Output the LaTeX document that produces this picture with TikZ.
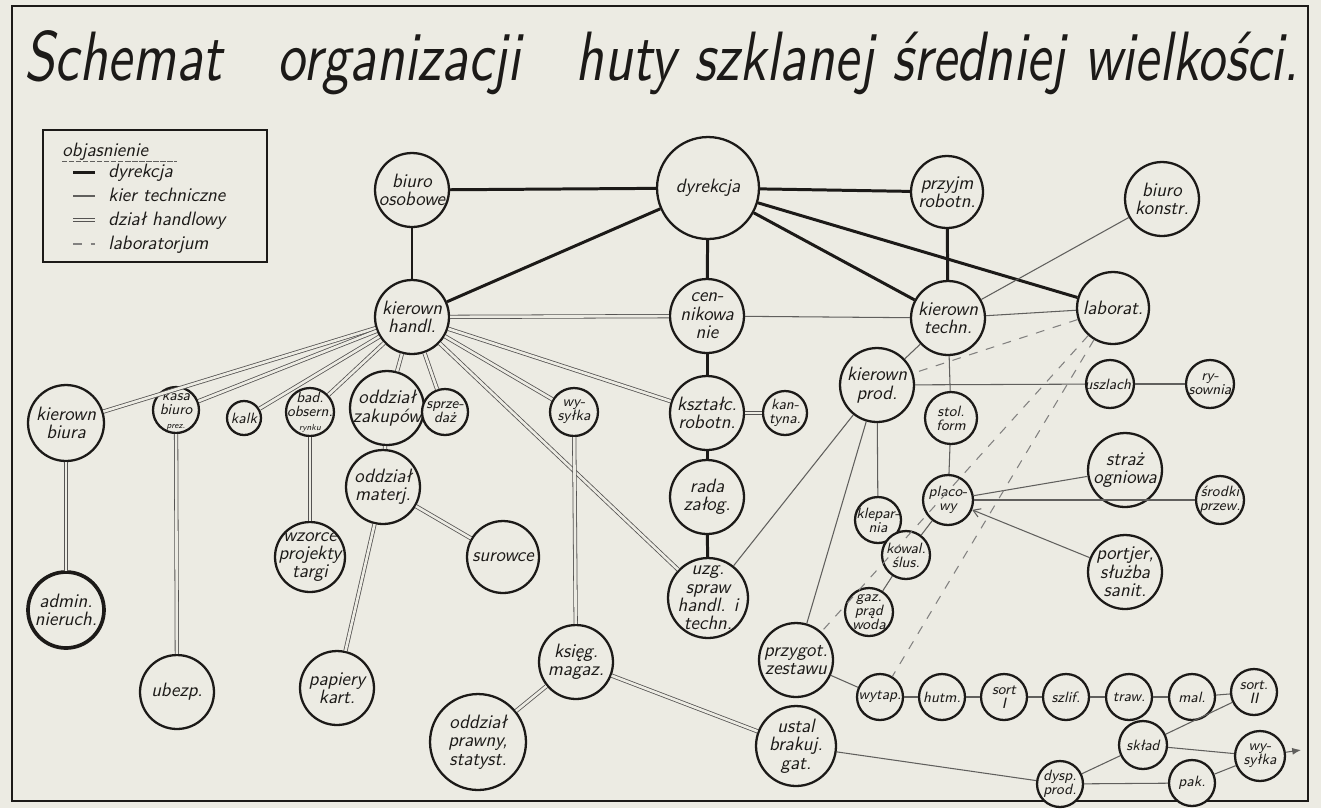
\documentclass[tikz,border=0pt]{standalone}
\usetikzlibrary{arrows.meta}
\definecolor{paper}{RGB}{236,235,227}
\definecolor{ink}{RGB}{28,26,24}

\begin{document}
\begin{tikzpicture}
[x=0.02cm,y=-0.02cm,
 unitDecorate/.style={shape=circle,draw=ink,fill=paper,line width=1.3pt,inner sep=0pt,minimum size=#1*0.04cm},
 bigText/.style={font=\sffamily\slshape\fontsize{11}{10.5}\selectfont,align=center,text=ink,inner sep=0pt},
 smallText/.style={font=\sffamily\slshape\fontsize{8.5}{8}\selectfont,align=center,text=ink,inner sep=0pt},
 legText/.style={font=\sffamily\slshape\fontsize{11}{11}\selectfont,text=ink,inner sep=0pt,anchor=base west},
 dirLine/.style={-,draw=ink,line width=1.7pt},
 techLine/.style={-,draw=ink!70,line width=0.6pt},
 tradeLine/.style={-,draw=ink!75,line width=0.45pt,double=paper,double distance=1.5pt},
 labLine/.style={-,draw=ink!55,line width=0.6pt,dash pattern=on 5pt off 5pt}]
%% paper and frame
\fill[paper] (0,0) rectangle (1321,808);
\draw[ink,line width=1.2pt] (12,6) rectangle (1308,801);
\node[anchor=base west,inner sep=0pt,text=ink] (title) at (24,80)
  {\resizebox{25.5cm}{1.0cm}{\sffamily\slshape Schemat\quad organizacji\quad huty szklanej średniej wielkości.}};
%% legend
\draw[ink,line width=1pt] (43,130) rectangle (267,262);
\node[legText] (legHead) at (62,156) {objasnienie};
\draw[ink!70,line width=0.5pt,dash pattern=on 3pt off 1pt] (62,161) -- (177,161);
\foreach \y/\lineStyle/\txt in {177/dirLine/dyrekcja, 201/techLine/kier techniczne,
  225/tradeLine/dział handlowy, 249/labLine/laboratorjum}
{
  \draw[\lineStyle] (73,\y-5) -- (95,\y-5);
  \node[legText] at (108,\y) {\txt};
}
%% nodes or vertices (big circles)
\foreach \nodename/\x/\y/\r/\txt in {
  biuroOs/412/190/37/{biuro\\osobowe}, dyr/708/188/51/{dyrekcja},
  przyjm/947/192/36/{przyjm\\robotn.}, bKonstr/1162/199/37/{biuro\\konstr.},
  kHandl/412/317/37/{kierown\\handl.}, cenn/707/316/37/{cen-\\nikowa\\nie},
  kTechn/948/318/37/{kierown\\techn.}, lab/1113/308/36/{laborat.},
  kBiura/66/423/38/{kierown\\biura}, zakup/387/408/37/{oddział\\zakupów},
  kszt/707/413/37/{kształc.\\robotn.}, kProd/877/385/37/{kierown\\prod.},
  mater/383/487/37/{oddział\\materj.}, admin/66/610/38/{admin.\\nieruch.},
  wzorce/310/557/35/{wzorce\\projekty\\targi}, surow/503/557/36/{surowce},
  straz/1125/470/37/{straż\\ogniowa}, portj/1125/572/37/{portjer,\\służba\\sanit.},
  rada/707/497/37/{rada\\załog.}, uzg/708/598/40/{uzg.\\spraw\\handl. i\\techn.},
  przyg/796/660/37/{przygot.\\zestawu}, papier/337/688/37/{papiery\\kart.},
  ubezp/177/692/37/{ubezp.}, ksieg/576/662/37/{księg.\\magaz.},
  prawny/478/742/48/{oddział\\prawny,\\statyst.}, ustal/796/746/40/{ustal\\brakuj.\\gat.}}
{
  \node (\nodename) at (\x,\y) [unitDecorate=\r] {};
  \node[bigText] at (\nodename) {\txt};
}
%% nodes or vertices (small circles)
\foreach \nodename/\x/\y/\r/\txt in {
  kasa/176/410/23/{kasa\\biuro\\{\tiny prez.}}, kalk/244/418/17/{kalk},
  badOb/310/412/24/{bad.\\obsern.\\{\tiny rynku}}, sprzed/445/412/23/{sprze-\\daż},
  wysA/574/412/24/{wy-\\syłka}, kant/785/413/22/{kan-\\tyna.},
  stol/951/418/26/{stol.\\form}, uszl/1110/384/24/{uszlach.},
  rys/1210/384/24/{ry-\\sownia}, klep/878/520/23/{klepar-\\nia},
  placo/948/500/25/{placo-\\wy}, srodki/1220/500/24/{środki\\przew.},
  kowal/906/555/24/{kowal.\\ślus.}, gaz/869/612/24/{gaz.\\prąd\\woda},
  wytap/880/697/23/{wytap.}, hutm/942/697/23/{hutm.}, sortI/1004/697/23/{sort\\I},
  szlif/1066/697/23/{szlif.}, traw/1129/697/23/{traw.}, mal/1192/697/23/{mal.},
  sortII/1254/692/23/{sort.\\II}, sklad/1143/745/24/{skład},
  dysp/1060/784/23/{dysp.\\prod.}, pak/1192/783/23/{pak.}, wysB/1260/756/25/{wy-\\syłka}}
{
  \node (\nodename) at (\x,\y) [unitDecorate=\r] {};
  \node[smallText] at (\nodename) {\txt};
}
\node[draw=ink,line width=2.1pt,circle,minimum size=1.52cm] at (admin) {};
\coordinate (outEnd) at (1301,750);
%% edges or lines
\path
\foreach \startnode/\endnode in {biuroOs/dyr, biuroOs/kHandl, dyr/kHandl, dyr/cenn,
  dyr/przyjm, dyr/kTechn, dyr/lab, przyjm/kTechn, cenn/kszt, kszt/rada, rada/uzg}
{
  (\startnode) edge[dirLine] (\endnode)
};
\path
\foreach \startnode/\endnode in {cenn/kTechn, kTechn/lab, bKonstr/kTechn, kTechn/kProd,
  kTechn/stol, kProd/uszl, uszl/rys, kProd/klep, kProd/uzg, kProd/przyg, stol/placo,
  placo/straz, placo/srodki, placo/kowal, kowal/gaz, przyg/wytap, wytap/hutm, hutm/sortI,
  sortI/szlif, szlif/traw, traw/mal, mal/sortII, sortII/sklad, sklad/wysB, dysp/sklad,
  dysp/pak, pak/wysB, ustal/dysp}
{
  (\startnode) edge[techLine] (\endnode)
};
\path
\foreach \startnode/\endnode in {kHandl/cenn, kHandl/kBiura, kHandl/kasa, kHandl/kalk,
  kHandl/badOb, kHandl/zakup, kHandl/sprzed, kHandl/wysA, kHandl/uzg, kHandl/kszt,
  kBiura/admin, kasa/ubezp, badOb/wzorce, zakup/mater, mater/surow, mater/papier,
  wysA/ksieg, ksieg/prawny, ksieg/ustal, kszt/kant}
{
  (\startnode) edge[tradeLine] (\endnode)
};
\path
\foreach \startnode/\endnode in {lab/kProd, lab/przyg, lab/wytap}
{
  (\startnode) edge[labLine] (\endnode)
};
\draw[techLine,-{Straight Barb[length=4pt,width=5pt]}] (portj) -- (placo);
\draw[techLine,-{Latex[length=5pt,width=4pt]}] (wysB) -- (outEnd);
\end{tikzpicture}
\end{document}
